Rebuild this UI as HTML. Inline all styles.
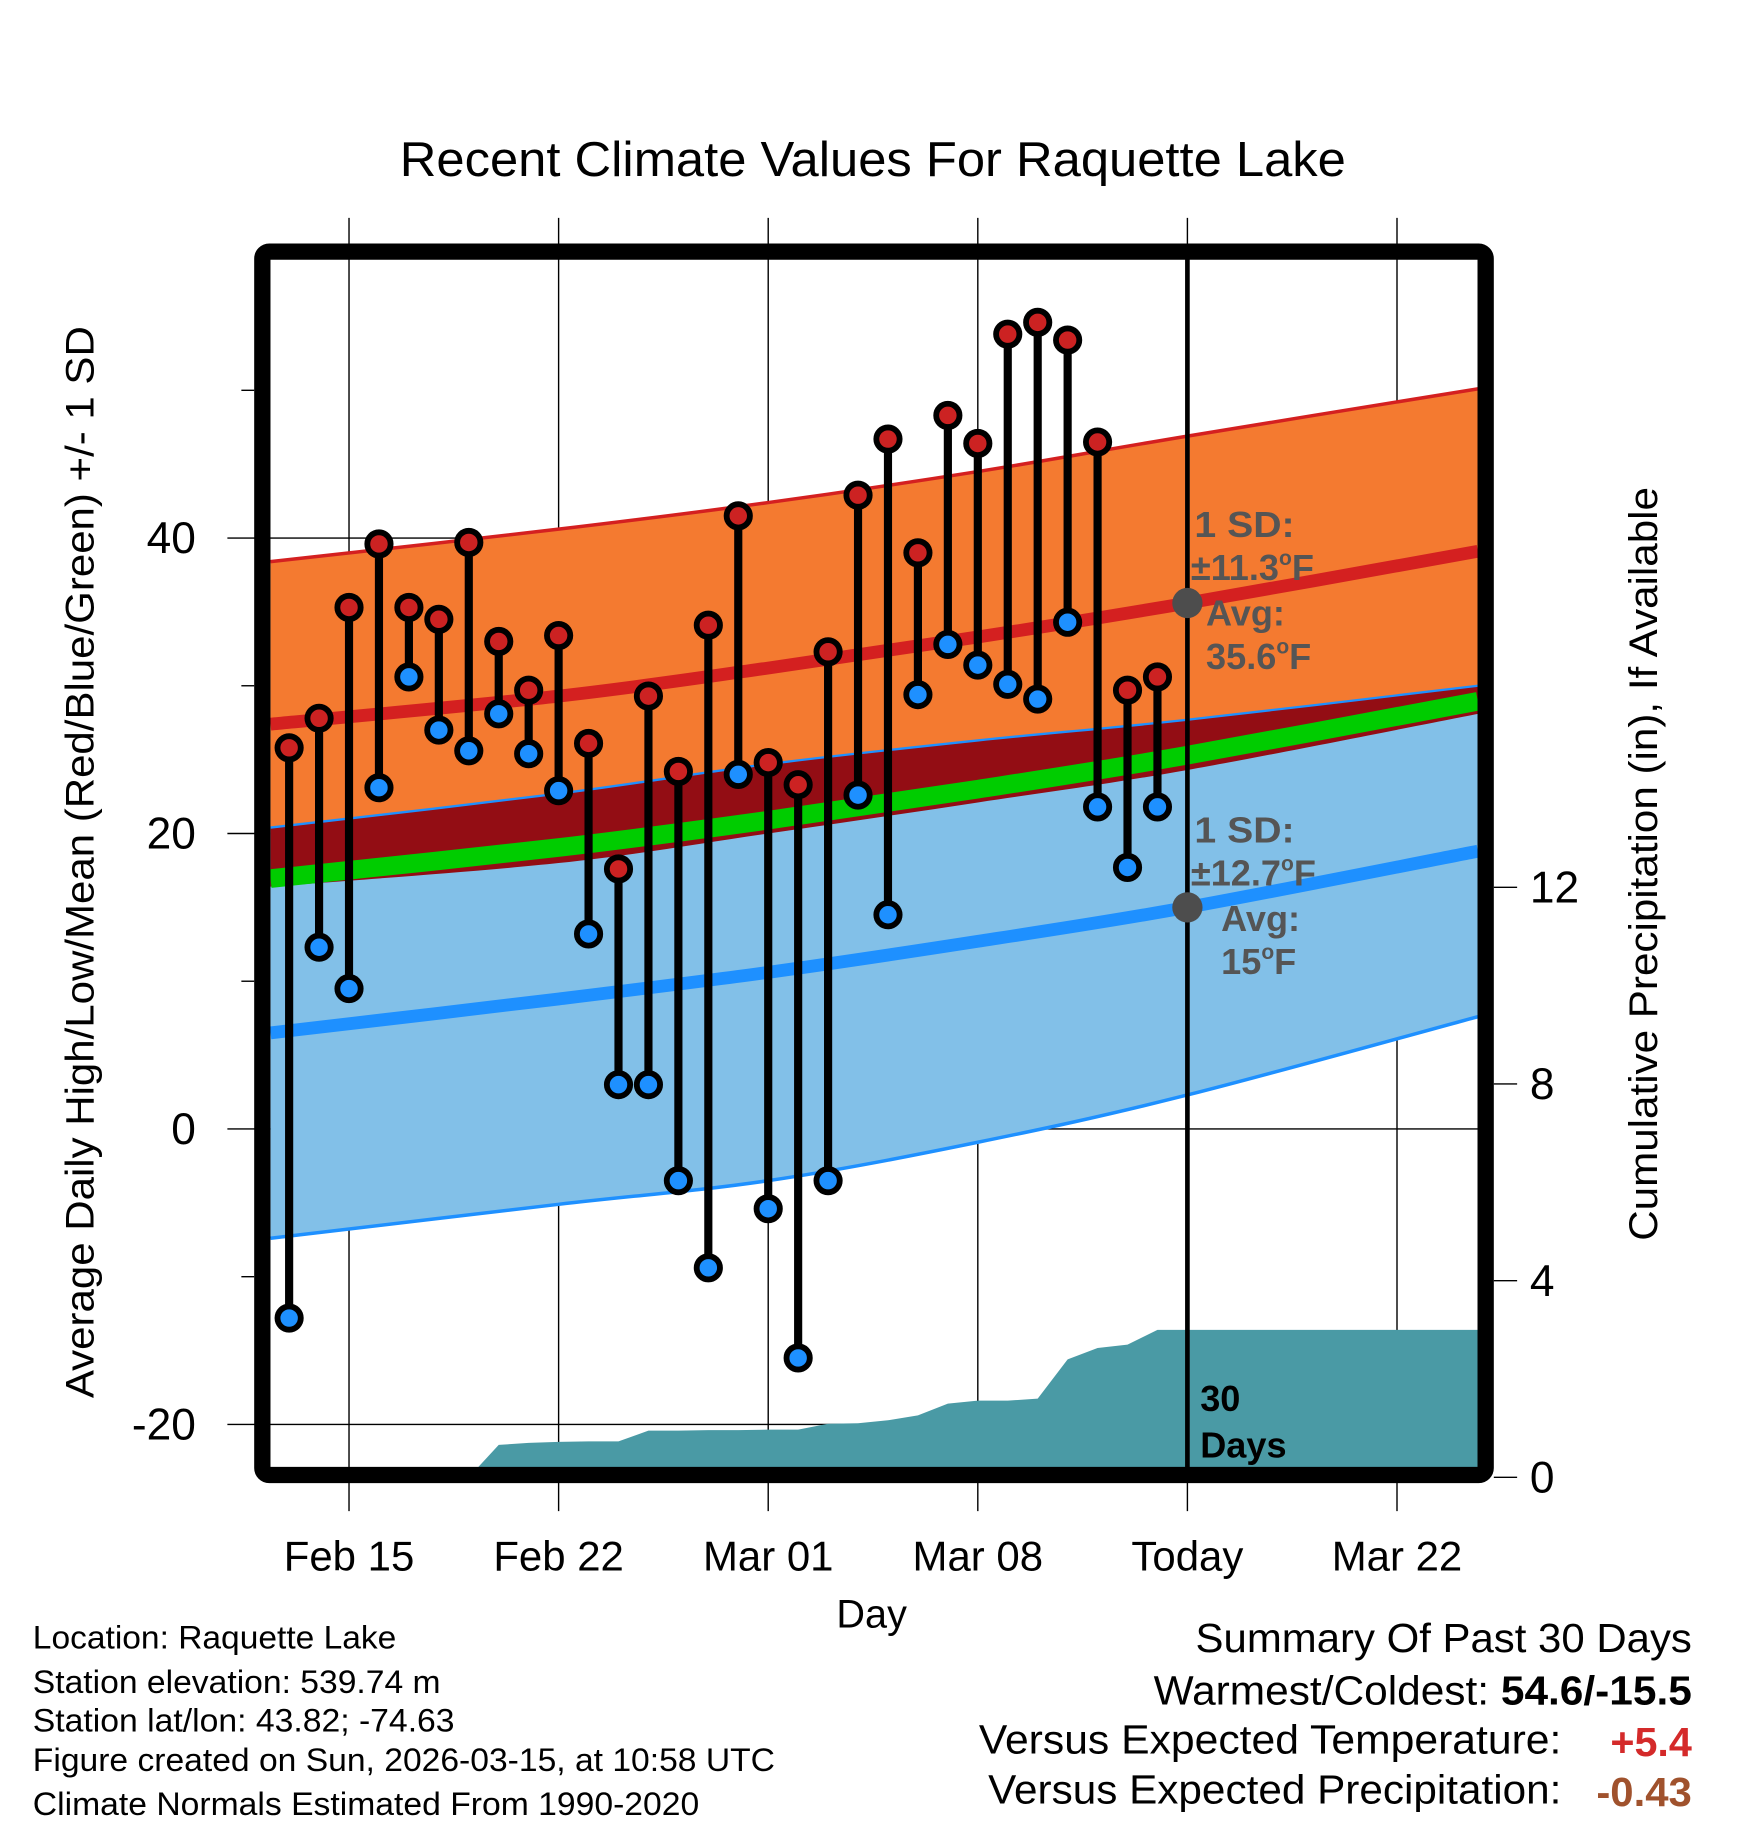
<!DOCTYPE html>
<html><head><meta charset="utf-8">
<style>html,body{margin:0;padding:0;background:#fff}svg{display:block}text{font-family:"Liberation Sans",sans-serif}</style>
</head><body>
<svg id="chart" width="1748" height="1828" viewBox="0 0 1500 1569" xmlns="http://www.w3.org/2000/svg">
<rect width="1500" height="1569" fill="#fff"/>
<text x="343" y="151" font-size="42" textLength="812" lengthAdjust="spacingAndGlyphs">Recent Climate Values For Raquette Lake</text>
<defs><clipPath id="pc"><rect x="232" y="222" width="1036" height="1038"/></clipPath></defs>
<g id="grid"></g>
<g id="bands" clip-path="url(#pc)"></g>
<g id="marks"></g>
<g id="axes"></g>
<g id="ann" font-weight="bold" fill="#555" font-size="31">
 <text x="1025" y="461" textLength="86" lengthAdjust="spacingAndGlyphs">1 SD:</text>
 <text x="1022" y="498">±11.3<tspan font-size="18" dy="-13">o</tspan><tspan dy="13">F</tspan></text>
 <text x="1035" y="537">Avg:</text>
 <text x="1035" y="574">35.6<tspan font-size="18" dy="-13">o</tspan><tspan dy="13">F</tspan></text>
 <text x="1025" y="723" textLength="86" lengthAdjust="spacingAndGlyphs">1 SD:</text>
 <text x="1022" y="760">±12.7<tspan font-size="18" dy="-13">o</tspan><tspan dy="13">F</tspan></text>
 <text x="1048" y="799">Avg:</text>
 <text x="1048" y="836">15<tspan font-size="18" dy="-13">o</tspan><tspan dy="13">F</tspan></text>
 <text x="1030" y="1211" fill="#000">30</text>
 <text x="1030" y="1251" fill="#000">Days</text>
</g>
<text x="748" y="1397" font-size="34" text-anchor="middle">Day</text>
<text transform="translate(80,1200) rotate(-90)" font-size="34" textLength="920" lengthAdjust="spacingAndGlyphs">Average Daily High/Low/Mean (Red/Blue/Green) +/- 1 SD</text>
<text transform="translate(1422,1065) rotate(-90)" font-size="34" textLength="647" lengthAdjust="spacingAndGlyphs">Cumulative Precipitation (in), If Available</text>
<g font-size="28">
 <text x="28" y="1415" textLength="312" lengthAdjust="spacingAndGlyphs">Location: Raquette Lake</text>
 <text x="28" y="1453" textLength="350" lengthAdjust="spacingAndGlyphs">Station elevation: 539.74 m</text>
 <text x="28" y="1486" textLength="362" lengthAdjust="spacingAndGlyphs">Station lat/lon: 43.82; -74.63</text>
 <text x="28" y="1520" textLength="637" lengthAdjust="spacingAndGlyphs">Figure created on Sun, 2026-03-15, at 10:58 UTC</text>
 <text x="28" y="1558" textLength="572" lengthAdjust="spacingAndGlyphs">Climate Normals Estimated From 1990-2020</text>
</g>
<g font-size="35">
 <text x="1026" y="1418" textLength="426" lengthAdjust="spacingAndGlyphs">Summary Of Past 30 Days</text>
 <text x="990" y="1463" textLength="462" lengthAdjust="spacingAndGlyphs">Warmest/Coldest: <tspan font-weight="bold">54.6/-15.5</tspan></text>
 <text x="840" y="1505" textLength="500" lengthAdjust="spacingAndGlyphs">Versus Expected Temperature:</text>
 <text x="1382" y="1507" font-weight="bold" fill="#d42a2a" textLength="70" lengthAdjust="spacingAndGlyphs">+5.4</text>
 <text x="848" y="1548" textLength="492" lengthAdjust="spacingAndGlyphs">Versus Expected Precipitation:</text>
 <text x="1370" y="1550" font-weight="bold" fill="#a0522d" textLength="82" lengthAdjust="spacingAndGlyphs">-0.43</text>
</g>
</svg>
<script>
// data
const highs=[25.8,27.8,35.3,39.6,35.3,34.5,39.7,33.0,29.7,33.4,26.1,17.6,29.3,24.2,34.1,41.5,24.8,23.3,32.3,42.9,46.7,39.0,48.3,46.4,53.8,54.6,53.4,46.5,29.7,30.6];
const lows=[-12.8,12.3,9.5,23.1,30.6,27.0,25.6,28.1,25.4,22.9,13.2,3.0,3.0,-3.5,-9.4,24.0,-5.4,-15.5,-3.5,22.6,14.5,29.4,32.8,31.4,30.1,29.1,34.3,21.8,17.7,21.8];
const precip=[0,0,0,0,0,0,0,0.66,0.7,0.72,0.73,0.73,0.95,0.95,0.96,0.96,0.97,0.97,1.09,1.1,1.16,1.26,1.5,1.56,1.56,1.6,2.4,2.63,2.7,3.0];
const normDays=[-0.62,9,16,23,30,39.7];
const highMean=[27.4,29.3,31.2,33.3,35.6,39.1];
const highSD=[11.0,11.3,11.2,11.2,11.3,11.0];
const lowMean=[6.5,8.8,10.6,12.7,15.0,18.8];
const lowSD=[13.9,13.9,14.1,13.6,12.7,11.2];
const xTickDays=[2,9,16,23,30,37];
const xTickLabels=["Feb 15","Feb 22","Mar 01","Mar 08","Today","Mar 22"];
const yTicks=[40,20,0,-20];
const yMinor=[50,30,10,-10];
const y2Ticks=[0,4,8,12];

const NS="http://www.w3.org/2000/svg";
const X=d=>248+25.7*d;
const Y=v=>969-12.68*v;
const Y2=p=>1268-42.2*p;
function el(tag,attrs,parent){const e=document.createElementNS(NS,tag);for(const k in attrs)e.setAttribute(k,attrs[k]);parent.appendChild(e);return e;}
const G=id=>document.getElementById(id);

function smooth(pts){let d="M"+pts[0][0]+","+pts[0][1];for(let i=0;i<pts.length-1;i++){const p0=pts[Math.max(0,i-1)],p1=pts[i],p2=pts[i+1],p3=pts[Math.min(pts.length-1,i+2)];const c1=[p1[0]+(p2[0]-p0[0])/6,p1[1]+(p2[1]-p0[1])/6],c2=[p2[0]-(p3[0]-p1[0])/6,p2[1]-(p3[1]-p1[1])/6];d+=" C"+c1+" "+c2+" "+p2;}return d;}
function curve(vals){return normDays.map((d,i)=>[X(d),Y(vals[i])]);}
function band(up,lo){const u=smooth(curve(up));const l=curve(lo).reverse();return u+" L"+smooth(l).slice(1)+" Z";}
const hUp=highMean.map((m,i)=>m+highSD[i]),hLo=highMean.map((m,i)=>m-highSD[i]);
const lUp=lowMean.map((m,i)=>m+lowSD[i]),lLo=lowMean.map((m,i)=>m-lowSD[i]);
const mean=highMean.map((m,i)=>(m+lowMean[i])/2);

const grid=G('grid');
xTickDays.forEach((d,i)=>{
 const g=el('line',{x1:X(d),x2:X(d),y1:187,y2:1297,stroke:'#000','stroke-width':1.2},grid);
 
 
});

const bands=G('bands');
let p;
p=el('path',{d:band(hUp,hLo),fill:'#f47a30'},bands);


p=el('path',{d:band(lUp,lLo),fill:'#82c0e8'},bands);


const defs=el('defs',{},bands);
const cp=el('clipPath',{id:'hc'},defs);
el('path',{d:band(hUp,hLo)},cp);
p=el('path',{d:band(lUp,lLo),fill:'#930d14','clip-path':'url(#hc)'},bands);


p=el('path',{d:smooth(curve(hUp)),fill:'none',stroke:'#d42020','stroke-width':3},bands);


p=el('path',{d:smooth(curve(lUp)),fill:'none',stroke:'#1e90ff','stroke-width':2},bands);


p=el('path',{d:smooth(curve(lLo)),fill:'none',stroke:'#1e90ff','stroke-width':3},bands);


p=el('path',{d:smooth(curve(mean)),fill:'none',stroke:'#00cc00','stroke-width':16},bands);


p=el('path',{d:smooth(curve(highMean)),fill:'none',stroke:'#d42020','stroke-width':11},bands);


p=el('path',{d:smooth(curve(lowMean)),fill:'none',stroke:'#1e90ff','stroke-width':11},bands);


yTicks.forEach(v=>{
 const l=el('line',{x1:195,x2:1268,y1:Y(v),y2:Y(v),stroke:'#000','stroke-width':1.2},G('grid'));
 
 
});
let pd="M"+X(0)+","+Y2(0);
precip.forEach((v,i)=>{pd+=" L"+X(i)+","+Y2(v);});
pd+=" L1268,"+Y2(precip[precip.length-1])+" L1268,1268 L"+X(0)+",1268 Z";
p=el('path',{d:pd,fill:'#4a9aa5'},bands);



const marks=G('marks');
const tl=el('line',{x1:X(30),x2:X(30),y1:222,y2:1262,stroke:'#000','stroke-width':4},marks);


let c=el('circle',{cx:X(30),cy:Y(highMean[4]),r:13,fill:'#4d4d4d'},marks);


c=el('circle',{cx:X(30),cy:Y(lowMean[4]),r:13,fill:'#4d4d4d'},marks);


highs.forEach((h,i)=>{
 const s=el('line',{x1:X(i),x2:X(i),y1:Y(h),y2:Y(lows[i]),stroke:'#000','stroke-width':7},marks);
 
 
});
highs.forEach((h,i)=>{
 const a=el('circle',{cx:X(i),cy:Y(h),r:10,fill:'#cc2222',stroke:'#000','stroke-width':5},marks);
 
 
 const b=el('circle',{cx:X(i),cy:Y(lows[i]),r:10,fill:'#1e90ff',stroke:'#000','stroke-width':5},marks);
 
 
});

const ax=G('axes');
const fr=el('rect',{x:225,y:216,width:1050,height:1050,rx:6,fill:'none',stroke:'#000','stroke-width':14},ax);


yTicks.forEach(v=>{
 const t=el('text',{x:168,y:Y(v)+13,'font-size':38,'text-anchor':'end'},ax);
 t.textContent=v;
 
 
});
yMinor.forEach(v=>{
 const l=el('line',{x1:207,x2:218,y1:Y(v),y2:Y(v),stroke:'#000','stroke-width':1.2},ax);
 
 
});
y2Ticks.forEach(v=>{
 const l=el('line',{x1:1282,x2:1302,y1:Y2(v),y2:Y2(v),stroke:'#000','stroke-width':1.2},ax);
 
 
 const t=el('text',{x:1313,y:Y2(v)+13,'font-size':38},ax);
 t.textContent=v;
 
 
});
xTickDays.forEach((d,i)=>{
 const t=el('text',{x:X(d),y:1348,'font-size':36,'text-anchor':'middle'},ax);
 t.textContent=xTickLabels[i];
 
 
});
</script>
</body></html>
